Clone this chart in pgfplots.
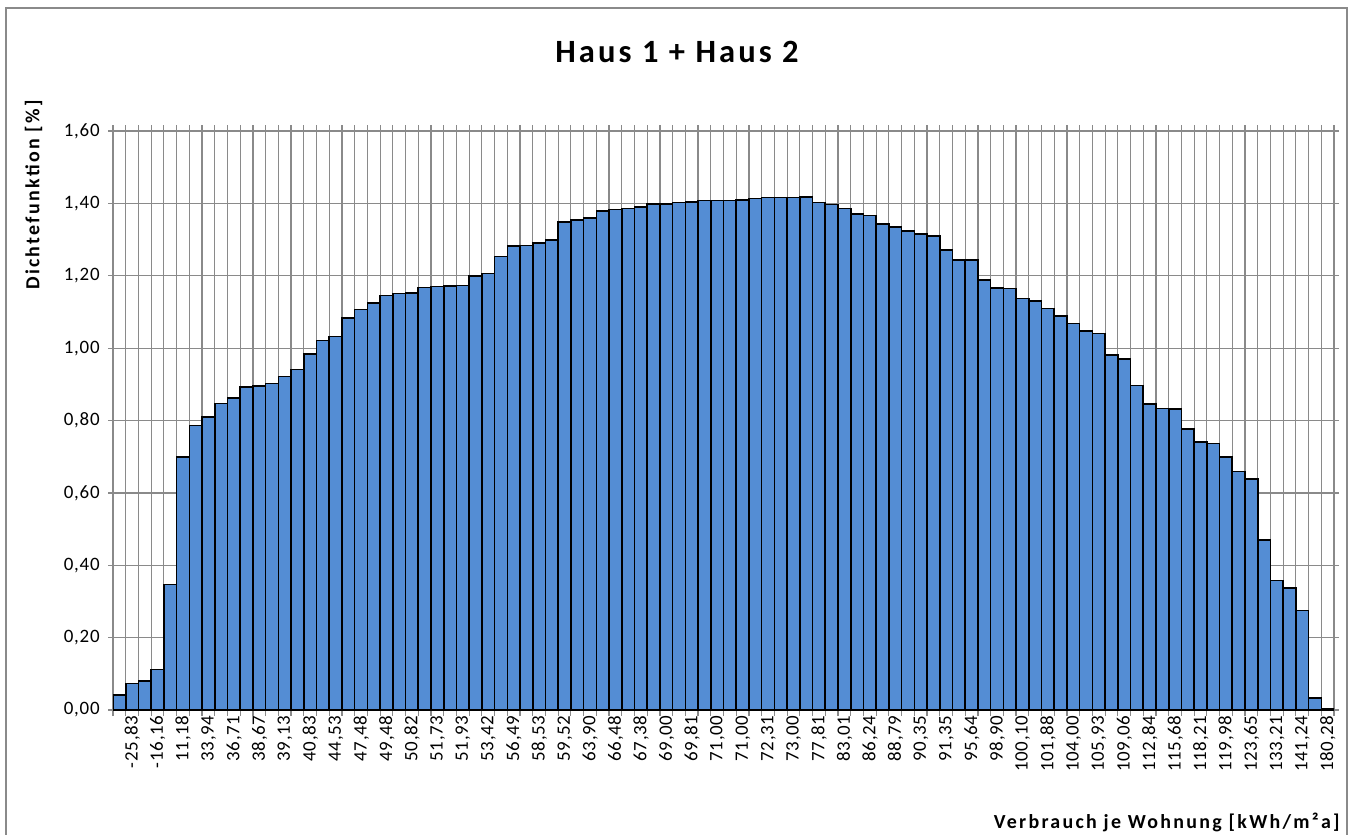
\documentclass[border=0pt]{standalone}
\usepackage{fontspec}
\setmainfont{Carlito}
\newfontfamily\titlefont{Carlito}[LetterSpace=9.5]
\newfontfamily\labfont{Carlito}[LetterSpace=11.5]
\newfontfamily\tickfont{Carlito}[LetterSpace=4]
\usepackage{pgfplots}
\pgfplotsset{compat=1.18}
\definecolor{barblue}{RGB}{84,141,212}
\definecolor{gridgray}{RGB}{138,138,138}
\begin{document}
\begin{tikzpicture}[x=0.5bp,y=0.5bp]
\useasboundingbox (0,0) rectangle (1358,-834);
\fill[white] (0,0) rectangle (1358,-834);
\draw[gridgray, line width=1bp] (6,-900) -- (6,-8) -- (1347,-8) -- (1347,-900);
\begin{axis}[
  at={(56.5bp,-355bp)}, anchor=south west,
  scale only axis, width=610.5bp, height=289.5bp,
  xmin=0.5, xmax=96.5, ymin=0, ymax=1.6,
  enlargelimits=false,
  ybar, bar width=1, bar shift=0pt,
  tick align=outside,
  major tick length=2.5bp, minor tick length=3bp,
  xtick={1,3,...,95},
  xticklabels={{-25,83},{-16,16},{11,18},{33,94},{36,71},{38,67},{39,13},{40,83},{44,53},{47,48},{49,48},{50,82},{51,73},{51,93},{53,42},{56,49},{58,53},{59,52},{63,90},{66,48},{67,38},{69,00},{69,81},{71,00},{71,00},{72,31},{73,00},{77,81},{83,01},{86,24},{88,79},{90,35},{91,35},{95,64},{98,90},{100,10},{101,88},{104,00},{105,93},{109,06},{112,84},{115,68},{118,21},{119,98},{123,65},{133,21},{141,24},{180,28}},
  minor xtick={0.5,1.5,...,96.5},
  ytick={0,0.2,0.4,0.6,0.8,1.0,1.2,1.4,1.6},
  every major x tick/.append style={draw=none},
  xmajorgrids=false, xminorgrids=true, ymajorgrids=true,
  grid style={gridgray, line width=0.6bp},
  major tick style={gridgray, line width=0.6bp},
  minor tick style={gridgray, line width=0.6bp},
  axis line style={gridgray, line width=0.6bp},
  xticklabel style={rotate=90, anchor=east, inner sep=0pt, font=\tickfont\fontsize{9.5}{11}\selectfont, yshift=-6.5bp},
  yticklabel style={anchor=east, inner sep=0pt, font=\tickfont\fontsize{9.5}{11}\selectfont, xshift=-4bp},
  /pgf/number format/use comma,
  /pgf/number format/fixed,
  /pgf/number format/fixed zerofill,
  /pgf/number format/precision=2,
  /pgf/number format/assume math mode=true,
]
\addplot[fill=barblue, draw=black, line width=0.8bp] coordinates {
(1,0.041) (2,0.073) (3,0.081) (4,0.112) (5,0.347) (6,0.700) (7,0.786) (8,0.809)
(9,0.847) (10,0.863) (11,0.892) (12,0.895) (13,0.902) (14,0.922) (15,0.941) (16,0.983)
(17,1.021) (18,1.032) (19,1.083) (20,1.107) (21,1.125) (22,1.146) (23,1.151) (24,1.153)
(25,1.168) (26,1.170) (27,1.171) (28,1.173) (29,1.200) (30,1.206) (31,1.253) (32,1.282)
(33,1.284) (34,1.291) (35,1.299) (36,1.348) (37,1.354) (38,1.360) (39,1.379) (40,1.383)
(41,1.386) (42,1.390) (43,1.398) (44,1.398) (45,1.403) (46,1.404) (47,1.408) (48,1.408)
(49,1.408) (50,1.410) (51,1.414) (52,1.416) (53,1.416) (54,1.416) (55,1.418) (56,1.403)
(57,1.397) (58,1.386) (59,1.371) (60,1.367) (61,1.343) (62,1.335) (63,1.323) (64,1.315)
(65,1.310) (66,1.272) (67,1.244) (68,1.244) (69,1.188) (70,1.167) (71,1.165) (72,1.137)
(73,1.131) (74,1.109) (75,1.089) (76,1.068) (77,1.048) (78,1.041) (79,0.981) (80,0.970)
(81,0.897) (82,0.846) (83,0.833) (84,0.832) (85,0.777) (86,0.741) (87,0.737) (88,0.699)
(89,0.659) (90,0.639) (91,0.470) (92,0.358) (93,0.337) (94,0.275) (95,0.033) (96,0.003)
};
\end{axis}
\node[anchor=base, inner sep=0pt, font=\titlefont\bfseries\fontsize{16.3}{18}\selectfont] at (677,-62) {Haus 1 + Haus 2};
\node[anchor=base, rotate=90, inner sep=0pt, font=\labfont\bfseries\fontsize{10}{12}\selectfont] at (39.3,-195) {Dichtefunktion [\%]};
\node[anchor=base east, inner sep=0pt, font=\labfont\bfseries\fontsize{10}{12}\selectfont] at (1340,-828) {Verbrauch je Wohnung [kWh/m²a]};
\end{tikzpicture}
\end{document}
